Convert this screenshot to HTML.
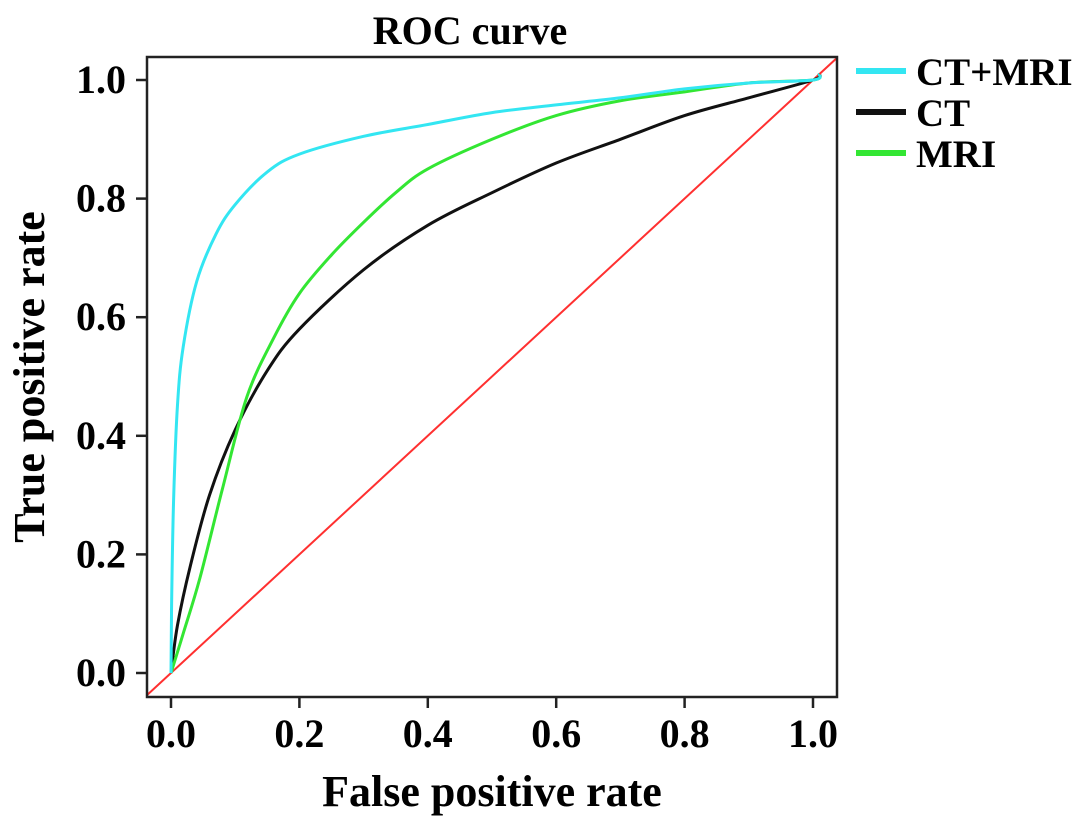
<!DOCTYPE html>
<html><head><meta charset="utf-8"><style>
html,body{margin:0;padding:0;background:#fff;}
svg{display:block;font-family:"Liberation Serif",serif;font-weight:bold;}
</style></head><body>
<svg id="chart" width="1087" height="828"></svg>
<script>
const xTicks=[0,0.2,0.4,0.6,0.8,1.0];
const yTicks=[0,0.2,0.4,0.6,0.8,1.0];
const seriesNames=["CT+MRI","CT","MRI"];
const seriesColors=["#33e6f2","#111111","#33e633"];
const ctmriX=[0,0.001,0.004,0.01,0.019,0.04,0.07,0.1,0.15,0.2,0.3,0.4,0.5,0.6,0.7,0.8,0.9,1.0,1.01];
const ctmriY=[0,0.12,0.29,0.45,0.55,0.66,0.74,0.79,0.845,0.875,0.905,0.925,0.945,0.958,0.97,0.985,0.995,1.0,1.01];
const ctX=[0,0.01,0.03,0.06,0.1,0.15,0.2,0.3,0.4,0.5,0.6,0.7,0.8,0.9,1.0,1.01];
const ctY=[0,0.08,0.18,0.3,0.41,0.51,0.58,0.68,0.755,0.81,0.86,0.9,0.94,0.97,1.0,1.01];
const mriX=[0,0.02,0.045,0.08,0.118,0.16,0.2,0.25,0.3,0.35,0.4,0.5,0.6,0.7,0.8,0.9,1.0,1.01];
const mriY=[0,0.07,0.16,0.31,0.465,0.565,0.64,0.705,0.76,0.81,0.85,0.9,0.94,0.965,0.98,0.995,1.0,1.01];
const NS="http://www.w3.org/2000/svg";
const svg=document.getElementById('chart');
const X=v=>171+v*642, Y=v=>673-v*593;
function mk(t,a,p){const e=document.createElementNS(NS,t);for(const k in a)e.setAttribute(k,a[k]);(p||svg).appendChild(e);return e;}
let t=mk('text',{x:470,y:44,'font-size':40,'text-anchor':'middle'});t.textContent="ROC curve";


const defs=mk('defs',{});const cp=mk('clipPath',{id:'c'},defs);mk('rect',{x:147,y:57,width:690,height:640},cp);
let d=mk('line',{x1:X(-0.04),y1:Y(-0.04),x2:X(1.04),y2:Y(1.04),stroke:'#ff3030','stroke-width':2,'clip-path':'url(#c)'});


function path(xs,ys){let p=xs.map((x,i)=>[X(x),Y(ys[i])]);let s=`M${p[0][0]},${p[0][1]}`;
for(let i=0;i<p.length-1;i++){const p0=p[Math.max(0,i-1)],p1=p[i],p2=p[i+1],p3=p[Math.min(p.length-1,i+2)];
s+=` C${p1[0]+(p2[0]-p0[0])/6},${p1[1]+(p2[1]-p0[1])/6} ${p2[0]-(p3[0]-p1[0])/6},${p2[1]-(p3[1]-p1[1])/6} ${p2[0]},${p2[1]}`;}return s;}
const data=[[ctmriX,ctmriY],[ctX,ctY],[mriX,mriY]];
const order=[1,2,0];
order.forEach(i=>{const e=mk('path',{d:path(data[i][0],data[i][1]),fill:'none',stroke:seriesColors[i],'stroke-width':3});

});
let f=mk('rect',{x:147,y:57,width:690,height:640,fill:'none',stroke:'#222','stroke-width':2.5});


xTicks.forEach(v=>{mk('line',{x1:X(v),y1:697,x2:X(v),y2:708,stroke:'#222','stroke-width':2.5});
const l=mk('text',{x:X(v),y:747,'font-size':40,'text-anchor':'middle'});l.textContent=v.toFixed(1);

});
yTicks.forEach(v=>{mk('line',{x1:136,y1:Y(v),x2:147,y2:Y(v),stroke:'#222','stroke-width':2.5});
const l=mk('text',{x:126,y:Y(v)+13,'font-size':40,'text-anchor':'end'});l.textContent=v.toFixed(1);

});
let xt=mk('text',{x:492,y:806,'font-size':44,'text-anchor':'middle'});xt.textContent="False positive rate";


let yt=mk('text',{x:0,y:0,'font-size':44,'text-anchor':'middle',transform:'translate(44,377) rotate(-90)'});yt.textContent="True positive rate";


seriesNames.forEach((n,i)=>{const y=71+i*41;
const g=mk('g',{});


mk('line',{x1:856,y1:y,x2:906,y2:y,stroke:seriesColors[i],'stroke-width':6},g);
const l=mk('text',{x:916,y:y+14,'font-size':39},g);l.textContent=n;});
</script>
</body></html>
